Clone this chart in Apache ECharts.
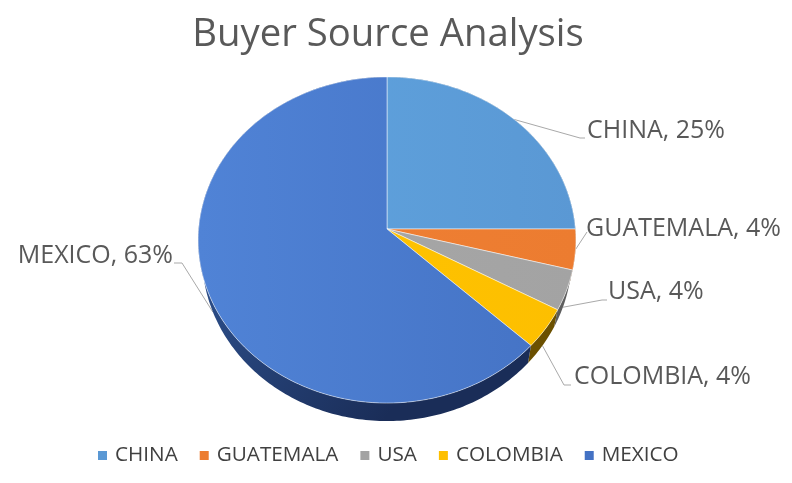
<!DOCTYPE html>
<html><head><meta charset="utf-8">
<style>html,body{margin:0;padding:0;background:#fff}#c{width:792px;height:483px}</style>
<script src="https://cdn.jsdelivr.net/npm/echarts@6/dist/echarts.min.js"></script>
</head><body><div id="c"></div>
<script>
const categories = ['CHINA','GUATEMALA','USA','COLOMBIA','MEXICO'];
const values = [25,4,4,4,63];
const faceColors = [['#60a5e0','#5a98d4'],['#f08035','#ec7c30'],['#a8a8a8','#a3a3a3'],['#ffc400','#fdbf00'],['#5083d6','#4472c4']];
const wallColors = [['#2f5f8c','#2f5f8c'],['#8e4a1c','#8e4a1c'],['#6e6e6e','#5e5e5e'],['#7f6000','#6b5000'],['#2b4c86','#1a2d58']];
const titleText = 'Buyer Source Analysis';
const FONT = '"Open Sans","Noto Sans",sans-serif';

// perspective projection of the pie's disc
const CX=387, B=0.0675;
const TOP={y0:229,a:162.3,c:188.4}, BOT={y0:245.4,a:163.8,c:184.5};
function proj(d,deg){
  const t=deg*Math.PI/180,u=Math.sin(t),v=-Math.cos(t),k=1-B*v;
  return [CX+d.c*u/k,d.y0+d.a*v/k];
}
function arc(d,a,b){
  const n=Math.max(2,Math.ceil(Math.abs(b-a))),p=[];
  for(let i=0;i<=n;i++)p.push(proj(d,a+(b-a)*i/n));
  return p;
}
const total=values.reduce((s,v)=>s+v,0);
// leader lines + label placement
const labelLayout={
  CHINA:{disc:TOP,via:[[580,138],[585,138]],x:587,y:131,align:'left'},
  GUATEMALA:{disc:TOP,via:[[587,232]],x:586,y:229,align:'left'},
  USA:{disc:BOT,via:[[602,300],[607,300]],x:608,y:292,align:'left'},
  COLOMBIA:{disc:BOT,via:[[564,385],[571,385]],x:574,y:377,align:'left'},
  MEXICO:{disc:BOT,via:[[182,263],[174,263]],x:173,y:256,align:'right'}
};
function grad(cols,box){
  return {type:'linear',x:box[0],y:box[1],x2:box[2],y2:box[3],global:true,
    colorStops:[{offset:0,color:cols[0]},{offset:1,color:cols[1]}]};
}
const FACE_BOX=[199,240,577,240], WALL_BOX=[205,300,385,420];
function makeSeries(idx){
  const start=values.slice(0,idx).reduce((s,v)=>s+v,0);
  return {
    type:'custom',name:categories[idx],coordinateSystem:'none',silent:true,
    itemStyle:{color:faceColors[idx][1]},
    data:[[values[idx]]],
    renderItem(params,api){
      const val=api.value(0),a=start/total*360,b=(start+val)/total*360,mid=(a+b)/2;
      const L=labelLayout[categories[idx]];
      const wall=arc(TOP,a,b).concat(arc(BOT,a,b).reverse());
      const face=[[CX,TOP.y0]].concat(arc(TOP,a,b));
      const line=[proj(L.disc,mid)].concat(L.via);
      return {type:'group',children:[
        {type:'polyline',z2:1,shape:{points:line},style:{stroke:'#a9a9a9',lineWidth:1,fill:null}},
        {type:'polygon',z2:2,shape:{points:wall},style:{fill:grad(wallColors[idx],WALL_BOX),stroke:null}},
        {type:'polygon',z2:3,shape:{points:face},style:{fill:grad(faceColors[idx],FACE_BOX),stroke:'rgba(255,255,255,0.65)',lineWidth:0.75}},
        {type:'text',z2:4,x:L.x,y:L.y,style:{
          text:categories[idx]+', '+Math.round(val/total*100)+'%',
          fill:'#595959',font:'25px '+FONT,align:L.align,verticalAlign:'middle'}}
      ]};
    }
  };
}
const chart=echarts.init(document.getElementById('c'),null,{renderer:'canvas'});
chart.setOption({
  animation:false,backgroundColor:'#fff',
  title:{text:titleText,left:383,top:11,textAlign:'center',textStyle:{fontFamily:FONT,fontSize:38.3,fontWeight:'normal',color:'#595959'}},
  legend:{data:categories.map(n=>({name:n,icon:'rect'})),left:93,top:440,itemWidth:9,itemHeight:9,itemGap:22,
    textStyle:{fontFamily:FONT,fontSize:20.7,color:'#404040',padding:[0,0,0,3]}},
  series:categories.map((_,i)=>makeSeries(i))
});
</script></body></html>
